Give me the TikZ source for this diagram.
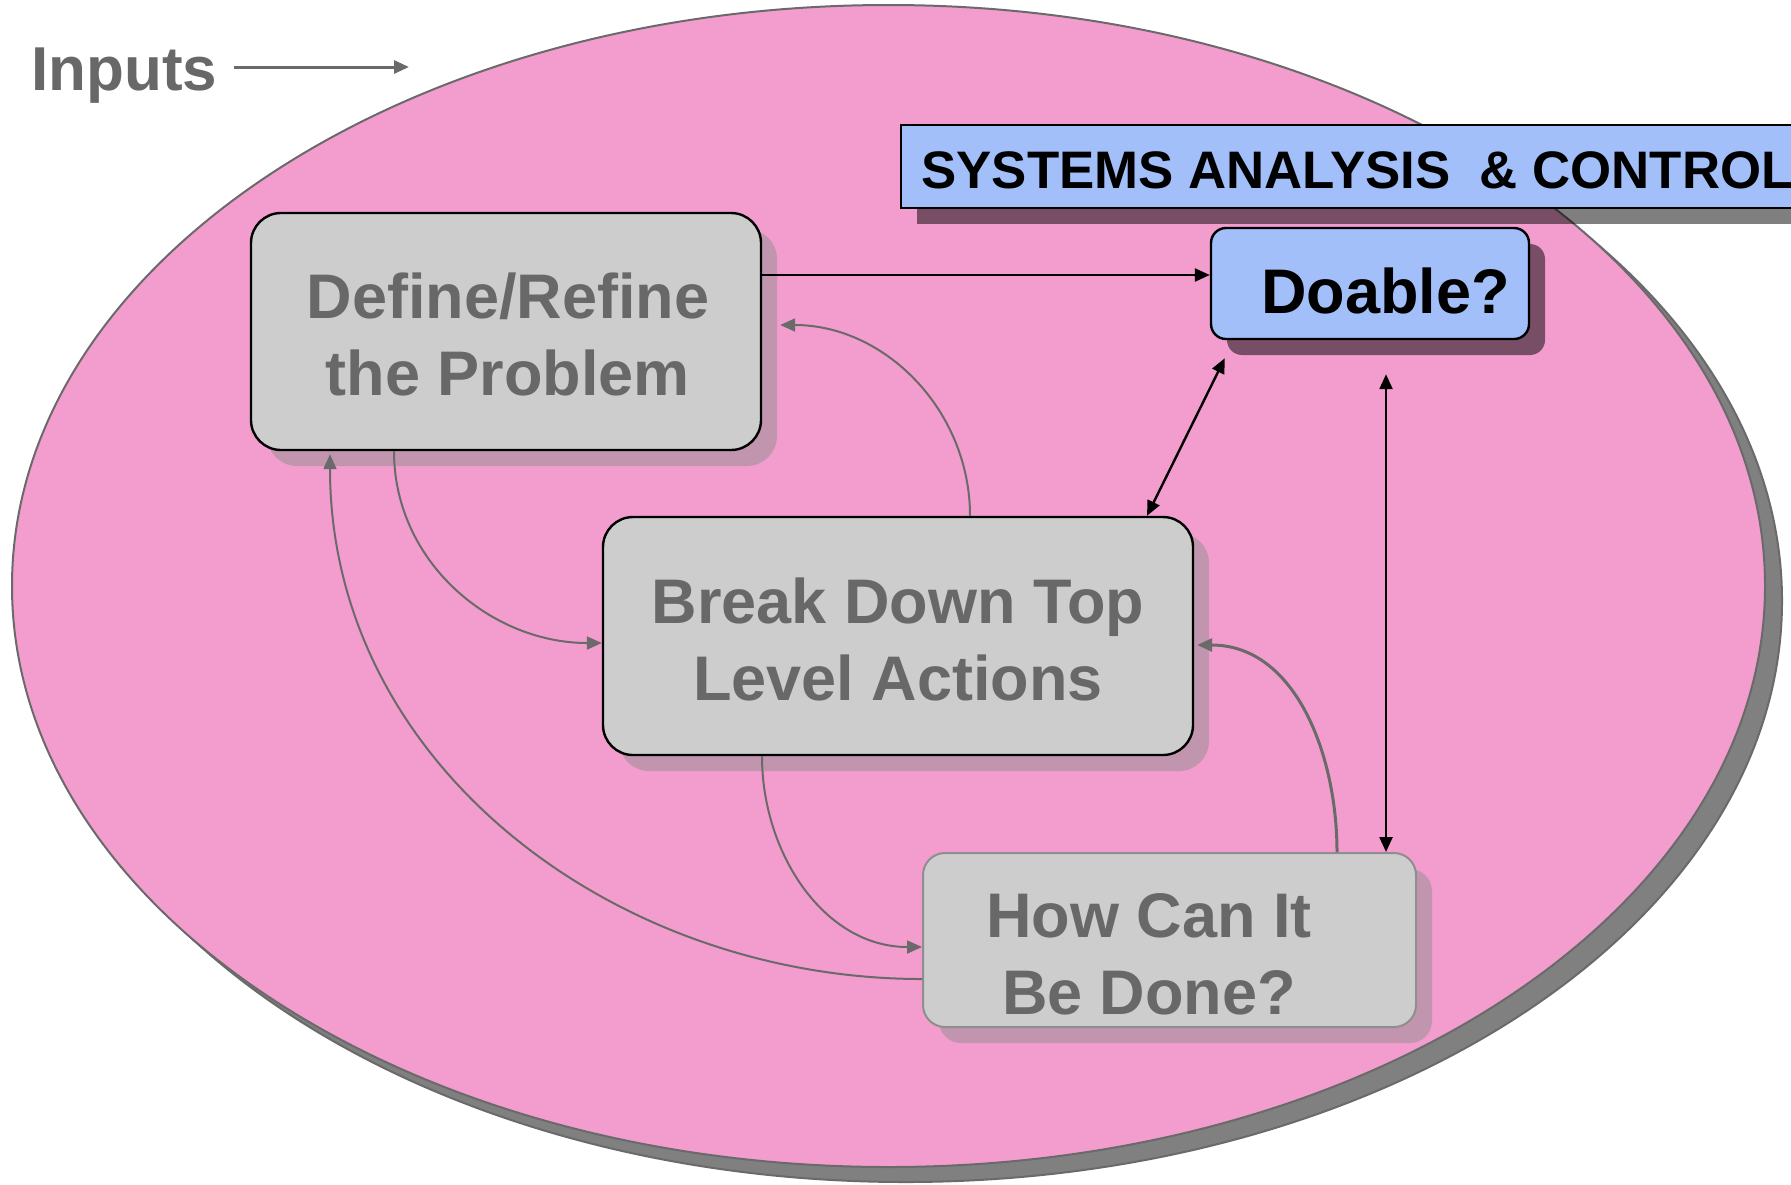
\documentclass[tikz,border=0pt]{standalone}
\usepackage{fontspec}
\setmainfont{Liberation Sans}
\usetikzlibrary{arrows.meta,shapes.geometric,shadows}

\definecolor{pinkfill}{HTML}{F29DCE}
\definecolor{edgegray}{HTML}{6A6A6A}
\definecolor{textgray}{HTML}{686868}
\definecolor{boxgray}{HTML}{CDCDCD}
\definecolor{boxshadow}{HTML}{C195AE}
\definecolor{bluefill}{HTML}{A3BFFA}
\definecolor{howedge}{HTML}{8E8E8E}
\definecolor{ellshadow}{HTML}{808080}

\begin{document}
\begin{tikzpicture}[x=0.5pt,y=-0.5pt,
  stepbox/.style={rectangle, rounded corners=15pt, fill=boxgray, draw=black,
    line width=1.2pt, inner sep=0pt,
    drop shadow={shadow xshift=8pt, shadow yshift=-8pt, fill=boxshadow, opacity=1}},
  boxtext/.style={anchor=base, inner sep=0pt, text=textgray,
    font=\fontsize{31.5pt}{38.5pt}\selectfont\bfseries},
  bluebox/.style={rectangle, fill=bluefill, draw=black, line width=1.2pt, inner sep=0pt,
    drop shadow={shadow xshift=8pt, shadow yshift=-8pt, fill=black, opacity=.5}},
  flowarrow/.style={draw=edgegray, line width=1pt,
    -{Triangle[length=7.5pt,width=6.5pt]}},
  linkarrow/.style={draw=black, line width=1.2pt,
    -{Triangle[length=7.5pt,width=6.5pt]}},
  bothlink/.style={draw=black, line width=1.2pt,
    {Triangle[length=7.5pt,width=6.5pt]}-{Triangle[length=7.5pt,width=6.5pt]}}
]
% page
\fill[white] (0,0) rectangle (1791,1184);
\clip (0,0) rectangle (1791,1184);

% the enclosing process ellipse
\node[ellipse, minimum width=876.5pt, minimum height=581pt, inner sep=0pt,
  fill=pinkfill, draw=edgegray, line width=1pt,
  drop shadow={shadow xshift=8.5pt, shadow yshift=-7.5pt, fill=ellshadow,
    draw=edgegray, opacity=1}] (process) at (888.5,586) {};

% inputs label and arrow
\node[anchor=base west, inner sep=0pt, text=textgray,
  font=\fontsize{31pt}{37pt}\selectfont\bfseries] (inputs) at (31,90) {Inputs};
\coordinate (inputs-tail) at (234,67);
\coordinate (inputs-head) at (409,67);
\draw[flowarrow, line width=1.5pt] (inputs-tail) -- (inputs-head);

% systems analysis banner (runs past the right edge)
\node[bluebox, minimum width=480pt, minimum height=41.5pt, anchor=west] (sysbox) at (900,166.5) {};
\node[anchor=base west, inner sep=0pt, font=\fontsize{26.4pt}{31pt}\selectfont\bfseries]
  (systitle) at (921,188) {SYSTEMS ANALYSIS \ \& CONTROL};

% process steps
\node[stepbox, minimum width=255pt, minimum height=118.5pt] (define) at (506,331.5) {};
\node[boxtext] (define-l1) at (508,318) {Define/Refine};
\node[boxtext] (define-l2) at (508,395) {the Problem};

\node[stepbox, minimum width=295pt, minimum height=119pt] (break) at (898,636) {};
\node[boxtext] (break-l1) at (898,623) {Break Down Top};
\node[boxtext] (break-l2) at (898,700) {Level Actions};

\node[stepbox, draw=howedge, line width=1pt, rounded corners=11pt,
  minimum width=246.5pt, minimum height=87pt] (how) at (1169.5,940) {};
\node[boxtext] (how-l1) at (1149,937) {How Can It};
\node[boxtext] (how-l2) at (1149,1014) {Be Done?};

\node[bluebox, rounded corners=7.5pt, minimum width=159pt, minimum height=55.5pt] (doable) at (1370,283.5) {};
\node[anchor=base east, inner sep=0pt, font=\fontsize{31.5pt}{38.5pt}\selectfont\bfseries]
  (doable-text) at (1510,313) {Doable?};

% links to the feasibility check
\draw[linkarrow] ([yshift=28.25pt]define.east) -- ([yshift=28.25pt]define.east -| doable.west);
\draw[bothlink] ([xshift=7.5pt,yshift=-9pt]doable.south west) -- ([xshift=124.5pt]break.north);
\draw[bothlink] ([xshift=8pt,yshift=-17pt]doable.south) -- ([xshift=108.25pt]how.north);

% iteration loops between the steps
\draw[flowarrow] ([xshift=-56pt]define.south) to[out=-90,in=180] ([yshift=-3.5pt]break.west);
\draw[flowarrow] ([xshift=-68pt]break.south) to[out=-90,in=180] ([yshift=-3.5pt]how.west);
\draw[flowarrow] ([yshift=-19.5pt]how.west) to[out=180,in=-90] ([xshift=-88pt,yshift=-1.5pt]define.south);
\draw[flowarrow] ([xshift=36pt]break.north) to[out=90,in=0] ([xshift=9pt,yshift=3.25pt]define.east);
\draw[flowarrow, line width=1.5pt] ([xshift=83.75pt]how.north) to[out=90,in=0] ([xshift=1.5pt,yshift=-4.5pt]break.east);
\end{tikzpicture}
\end{document}
